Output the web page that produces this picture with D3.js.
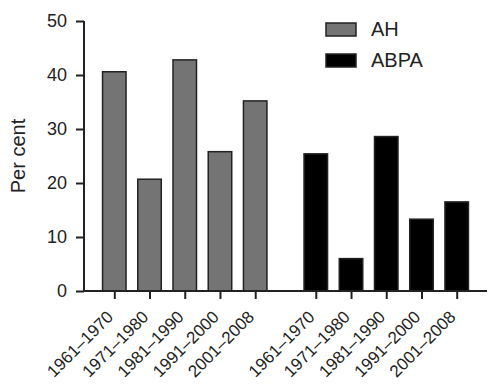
<!DOCTYPE html>
<html>
<head>
<meta charset="utf-8">
<script src="https://cdn.jsdelivr.net/npm/d3@7"></script>
<style>
  body { margin: 0; background: #fff; }
  text { font-family: "Liberation Sans", Arial, sans-serif; fill: #222; }
</style>
</head>
<body>
<div id="app"></div>
<script>
const width = 488;
const height = 385;

const periods = ["1961\u20131970", "1971\u20131980", "1981\u20131990", "1991\u20132000", "2001\u20132008"];
const groups = ["AH", "ABPA"];
const ahValues = [40.6, 20.7, 42.8, 25.8, 35.2];
const abpaValues = [25.4, 6.0, 28.6, 13.3, 16.5];
const yTicks = [0, 10, 20, 30, 40, 50];

const fills = { AH: "#747474", ABPA: "#000" };
const groupGap = 0.72; // extra slot between the two data sets

document.getElementById("app").innerHTML = `<svg width="${width}" height="${height}"></svg>`;
const svg = d3.select("svg");

const bars = [];
groups.forEach((g, gi) => {
  const vals = gi === 0 ? ahValues : abpaValues;
  periods.forEach((p, i) => {
    bars.push({ group: g, period: p, value: vals[i], slot: gi * (periods.length + groupGap) + i });
  });
});

const x = d3.scaleLinear().domain([-0.86, 10.58]).range([84, 487]);
const y = d3.scaleLinear().domain([0, 50]).range([291, 21]);
const barW = 23.5;

// bars
svg.append("g")
  .selectAll("rect")
  .data(bars)
  .enter()
  .append("rect")
  .attr("x", d => x(d.slot) - barW / 2)
  .attr("y", d => y(d.value))
  .attr("width", barW)
  .attr("height", d => y(0) - y(d.value))
  .style("fill", d => fills[d.group])
  .style("stroke", "#222")
  .style("stroke-width", 1.5);

// y axis
const yAxis = svg.append("g")
  .attr("transform", `translate(${x.range()[0]},0)`)
  .call(d3.axisLeft(y).tickValues(yTicks).tickSize(8).tickPadding(9));
yAxis.select(".domain").attr("stroke", "#222").attr("stroke-width", 2).attr("d", `M0,${y(50)}V${y(0)}`);
yAxis.selectAll(".tick line").attr("stroke", "#222").attr("stroke-width", 2);
yAxis.selectAll(".tick text").style("font-size", "18px").attr("fill", "#222").style("font-family", "Liberation Sans, Arial, sans-serif");

// x axis
const xAxis = svg.append("g")
  .attr("transform", `translate(0,${y(0)})`)
  .call(d3.axisBottom(x).tickValues(bars.map(d => d.slot)).tickSize(8).tickFormat(""));
xAxis.select(".domain").attr("stroke", "#222").attr("stroke-width", 2).attr("d", `M${x.range()[0]},0H${x.range()[1]}`);
xAxis.selectAll(".tick line").attr("stroke", "#222").attr("stroke-width", 2);

// rotated period labels under each tick
svg.append("g")
  .selectAll("text")
  .data(bars)
  .enter()
  .append("text")
  .attr("x", d => x(d.slot))
  .attr("y", y(0) + 27)
  .attr("transform", d => `rotate(-45,${x(d.slot)},${y(0) + 27})`)
  .attr("text-anchor", "end")
  .style("font-size", "17px")
  .text(d => d.period);

// y label
svg.append("text")
  .attr("transform", `translate(25,156) rotate(-90)`)
  .attr("text-anchor", "middle")
  .style("font-size", "20px")
  .text("Per cent");

// legend
const legend = svg.append("g")
  .selectAll("g")
  .data(groups)
  .enter()
  .append("g")
  .attr("transform", (d, i) => `translate(326,${23 + i * 31})`);
legend.append("rect")
  .attr("width", 30)
  .attr("height", 13)
  .style("fill", d => fills[d])
  .style("stroke", "#222")
  .style("stroke-width", 1.5);
legend.append("text")
  .attr("x", 45)
  .attr("y", 13)
  .style("font-size", "20px")
  .text(d => d);
</script>
</body>
</html>
